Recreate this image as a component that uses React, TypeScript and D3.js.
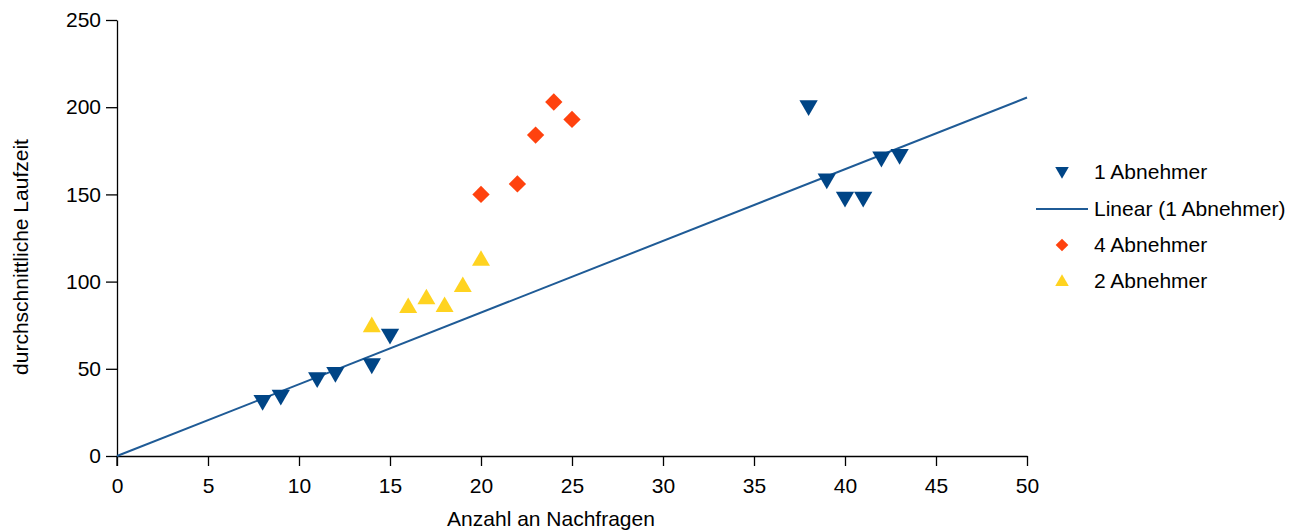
import { useEffect, useRef } from "react";
import * as d3 from "d3";

// 1 Abnehmer
const x1 = [8, 9, 11, 12, 14, 15, 38, 39, 40, 41, 42, 43];
const y1 = [32, 35, 45, 48, 53, 70, 201, 159, 148.5, 148.5, 171.5, 173];
// 4 Abnehmer
const x4 = [20, 22, 23, 24, 25];
const y4 = [150, 156, 184, 203, 193];
// 2 Abnehmer
const x2 = [14, 16, 17, 18, 19, 20];
const y2 = [74, 85, 90, 85.5, 97, 112];

const xTicks = [0, 5, 10, 15, 20, 25, 30, 35, 40, 45, 50];
const yTicks = [0, 50, 100, 150, 200, 250];

const legendLabels = ["1 Abnehmer", "Linear (1 Abnehmer)", "4 Abnehmer", "2 Abnehmer"];

const BLUE = "#004586";
const RED = "#ff420e";
const YELLOW = "#ffd320";
const LINE = "#1f5b96";

const App = () => {
  const ref = useRef<SVGSVGElement>(null);

  useEffect(() => {
    const svg = d3.select(ref.current);
    svg.selectAll("*").remove();

    const left = 117,
      right = 1027,
      top = 20,
      bottom = 456;

    const x = d3.scaleLinear().domain([0, 50]).range([left, right]);
    const y = d3.scaleLinear().domain([0, 250]).range([bottom, top]);

    const font = "'Liberation Sans', Arial, sans-serif";
    const fs = "21px ";

    // axes
    const gx = svg
      .append("g")
      .attr("transform", "translate(0," + bottom + ")")
      .call(d3.axisBottom(x).tickValues(xTicks).tickSize(10).tickPadding(12).tickSizeOuter(0));
    gx.selectAll("text").style("font", fs + font).attr("fill", "#000");
    gx.selectAll("line, path").attr("stroke", "#000").attr("stroke-width", 1.3);

    const gy = svg
      .append("g")
      .attr("transform", "translate(" + left + ",0)")
      .call(d3.axisLeft(y).tickValues(yTicks).tickSize(11).tickPadding(5).tickSizeOuter(0));
    gy.selectAll("text").style("font", fs + font).attr("fill", "#000");
    gy.selectAll("line, path").attr("stroke", "#000").attr("stroke-width", 1.3);

    // extend y axis line below zero like the reference
    svg
      .append("line")
      .attr("x1", left)
      .attr("x2", left)
      .attr("y1", bottom)
      .attr("y2", bottom + 10)
      .attr("stroke", "#000")
      .attr("stroke-width", 1.3);

    // axis titles
    svg
      .append("text")
      .attr("x", 551)
      .attr("y", 526)
      .attr("text-anchor", "middle")
      .style("font", fs + font)
      .text("Anzahl an Nachfragen");

    svg
      .append("text")
      .attr("transform", "translate(28,257) rotate(-90)")
      .attr("text-anchor", "middle")
      .style("font", fs + font)
      .text("durchschnittliche Laufzeit");

    // linear trend through origin for 1 Abnehmer
    const slope = d3.sum(x1, (v, i) => v * y1[i]) / d3.sum(x1, (v) => v * v);
    svg
      .append("line")
      .attr("x1", x(0))
      .attr("y1", y(0))
      .attr("x2", x(50))
      .attr("y2", y(50 * slope))
      .attr("stroke", LINE)
      .attr("stroke-width", 2);

    const down = d3.symbol().type(d3.symbolTriangle).size(145);
    const up = d3.symbol().type(d3.symbolTriangle).size(140);
    const diamond = d3.symbol().type(d3.symbolSquare).size(150);

    svg
      .append("g")
      .selectAll("path")
      .data(x2.map((v, i) => [v, y2[i]]))
      .enter()
      .append("path")
      .attr("d", up())
      .attr("transform", (d) => "translate(" + x(d[0]) + "," + y(d[1]) + ")")
      .attr("fill", YELLOW);

    svg
      .append("g")
      .selectAll("path")
      .data(x4.map((v, i) => [v, y4[i]]))
      .enter()
      .append("path")
      .attr("d", diamond())
      .attr("transform", (d) => "translate(" + x(d[0]) + "," + y(d[1]) + ") rotate(45)")
      .attr("fill", RED);

    svg
      .append("g")
      .selectAll("path")
      .data(x1.map((v, i) => [v, y1[i]]))
      .enter()
      .append("path")
      .attr("d", down())
      .attr("transform", (d) => "translate(" + x(d[0]) + "," + y(d[1]) + ") rotate(180)")
      .attr("fill", BLUE);

    // legend
    const rows = [172, 209, 245, 281];
    const lg = svg.append("g");
    lg.append("path")
      .attr("d", d3.symbol().type(d3.symbolTriangle).size(80)())
      .attr("transform", "translate(1062," + (rows[0] - 1) + ") rotate(180)")
      .attr("fill", BLUE);
    lg.append("line")
      .attr("x1", 1036)
      .attr("x2", 1088)
      .attr("y1", rows[1])
      .attr("y2", rows[1])
      .attr("stroke", LINE)
      .attr("stroke-width", 2);
    lg.append("path")
      .attr("d", d3.symbol().type(d3.symbolSquare).size(80)())
      .attr("transform", "translate(1062," + rows[2] + ") rotate(45)")
      .attr("fill", RED);
    lg.append("path")
      .attr("d", d3.symbol().type(d3.symbolTriangle).size(80)())
      .attr("transform", "translate(1062," + (rows[3] + 1) + ")")
      .attr("fill", YELLOW);

    lg.selectAll("text")
      .data(legendLabels)
      .enter()
      .append("text")
      .attr("x", 1094)
      .attr("y", (d, i) => rows[i])
      .attr("dy", "0.35em")
      .style("font", fs + font)
      .text((d) => d);
  }, []);

  return (
    <svg
      ref={ref}
      width={1295}
      height={531}
      style={{ position: "absolute", left: 0, top: 0, background: "#fff" }}
    />
  );
};

export default App;
